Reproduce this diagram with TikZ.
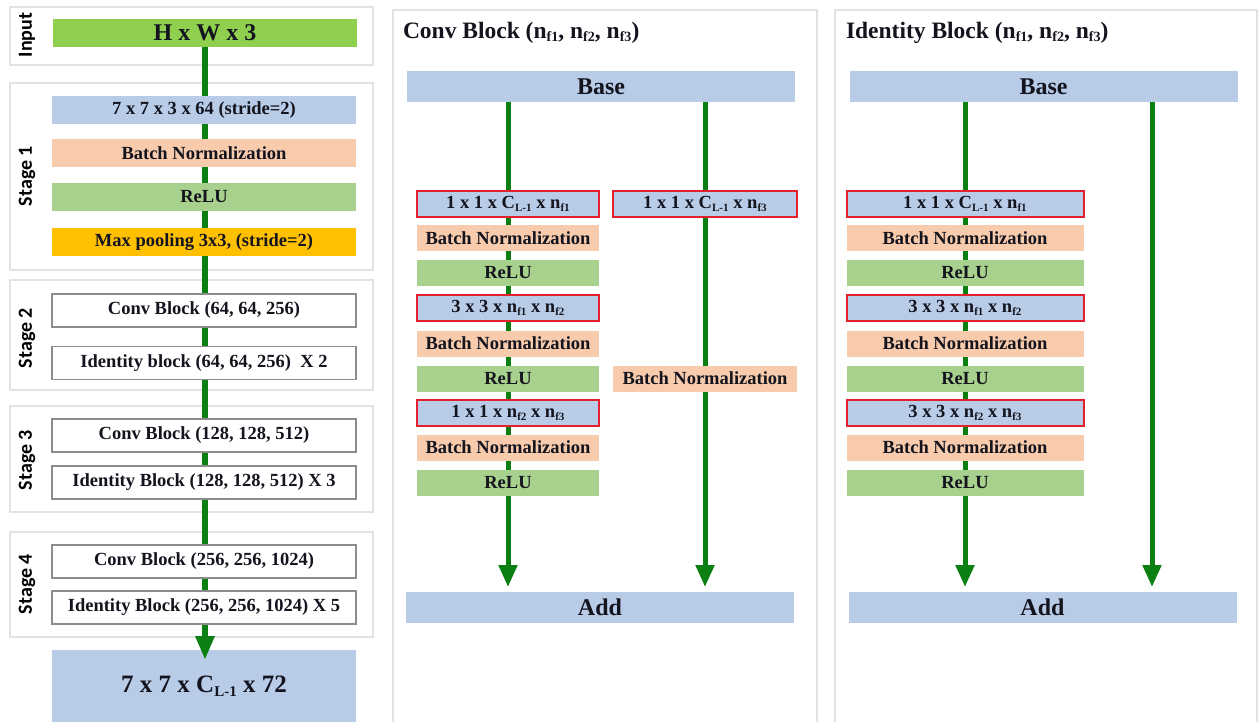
\documentclass[tikz,border=0pt]{standalone}
\usepackage{fontspec}
\setmainfont{Liberation Serif}
\newfontfamily\stagefont{Carlito}
\usetikzlibrary{arrows.meta,backgrounds}

\definecolor{cblue}{HTML}{B8CCE8}
\definecolor{csalmon}{HTML}{F8CBAD}
\definecolor{cgreen}{HTML}{A9D18E}
\definecolor{cinput}{HTML}{8FD14F}
\definecolor{corange}{HTML}{FFC000}
\definecolor{cred}{HTML}{E3202B}
\definecolor{cflow}{HTML}{0B7F12}
\definecolor{panelgray}{HTML}{E2E2E2}
\definecolor{boxgray}{HTML}{8C8C8C}
\definecolor{txt}{HTML}{14141E}

\newcommand\bxfont{\fontsize{18.5}{19}\selectfont\bfseries}
% small lowered index, about 60% of the surrounding size
\newcommand\sub[1]{\raisebox{-0.3ex}{\scalebox{0.6}{#1}}}

\begin{document}
\begin{tikzpicture}[x=1pt,y=-1pt,
  every node/.style={inner sep=0pt, outer sep=0pt, text=txt, font=\bxfont},
  panel/.style={draw=panelgray, line width=1.2pt, fill=white},
  stagelbl/.style={rotate=90, font=\stagefont\bfseries\fontsize{20}{20}\selectfont, text=black},
  wide/.style={minimum width=304},
  bluebox/.style={fill=cblue, minimum height=28},
  bnbox/.style={fill=csalmon, minimum height=26},
  relubox/.style={fill=cgreen, minimum height=26},
  poolbox/.style={fill=corange, minimum height=28},
  stagebox/.style={fill=white, draw=boxgray, line width=1.2pt, minimum height=33},
  convbox/.style={fill=cblue, draw=cred, line width=2pt, minimum height=26},
  bigbox/.style={fill=cblue, minimum width=388, minimum height=31, font=\fontsize{24}{24}\selectfont\bfseries},
  title/.style={anchor=west, font=\fontsize{23.5}{24}\selectfont\bfseries},
  flow/.style={draw=cflow, line width=5pt, -{Triangle[width=18pt,length=22pt]}},
  mainflow/.style={draw=cflow, line width=6pt, -{Triangle[width=18pt,length=24pt]}}
]
\useasboundingbox (0,0) rectangle (1259,722);

% ---------------- ResNet backbone ----------------
\node[fill=cinput, wide, minimum height=28, font=\fontsize{24}{24}\selectfont\bfseries] (inp) at (205,33) {H x W x 3};

\node[bluebox, wide] (s1a) at (204,110) {7 x 7 x 3 x 64 (stride=2)};
\node[bnbox, wide, minimum height=28] (s1b) at (204,153) {Batch Normalization};
\node[relubox, wide, minimum height=28] (s1c) at (204,197) {ReLU};
\node[poolbox, wide] (s1d) at (204,242) {Max pooling 3x3, (stride=2)};

\node[stagebox, wide] (s2a) at (204,310.5) {Conv Block (64, 64, 256)};
\node[stagebox, wide] (s2b) at (204,363) {Identity block (64, 64, 256)\ \ X 2};
\node[stagebox, wide] (s3a) at (204,435.5) {Conv Block (128, 128, 512)};
\node[stagebox, wide] (s3b) at (204,482.5) {Identity Block (128, 128, 512) X 3};
\node[stagebox, wide] (s4a) at (204,561.5) {Conv Block (256, 256, 1024)};
\node[stagebox, wide] (s4b) at (204,607.5) {Identity Block (256, 256, 1024) X 5};

% ---------------- Conv block ----------------
\node[title] (cbT) at (403,33) {Conv Block (n\sub{f1}, n\sub{f2}, n\sub{f3})};
\node[bigbox] (cbBase) at (601,86.5) {Base};
\node[bigbox] (cbAdd) at (600,607.5) {Add};

\node[convbox, minimum width=182] (cb1) at (508,204) {1 x 1 x C\sub{L-1} x n\sub{f1}};
\node[bnbox, minimum width=182] (cb2) at (508,238) {Batch Normalization};
\node[relubox, minimum width=182] (cb3) at (508,273) {ReLU};
\node[convbox, minimum width=182] (cb4) at (508,308) {3 x 3 x n\sub{f1} x n\sub{f2}};
\node[bnbox, minimum width=182] (cb5) at (508,343.5) {Batch Normalization};
\node[relubox, minimum width=182] (cb6) at (508,378.5) {ReLU};
\node[convbox, minimum width=182] (cb7) at (508,413) {1 x 1 x n\sub{f2} x n\sub{f3}};
\node[bnbox, minimum width=182] (cb8) at (508,447.5) {Batch Normalization};
\node[relubox, minimum width=182] (cb9) at (508,483) {ReLU};

\node[convbox, minimum width=184] (cbs1) at (705,204) {1 x 1 x C\sub{L-1} x n\sub{f3}};
\node[bnbox, minimum width=184] (cbs2) at (705,378.5) {Batch Normalization};

% ---------------- Identity block ----------------
\node[title] (idT) at (846,33) {Identity Block (n\sub{f1}, n\sub{f2}, n\sub{f3})};
\node[bigbox] (idBase) at (1043.5,86.5) {Base};
\node[bigbox] (idAdd) at (1042.5,607.5) {Add};

\node[convbox, minimum width=237] (id1) at (965,204) {1 x 1 x C\sub{L-1} x n\sub{f1}};
\node[bnbox, minimum width=237] (id2) at (965,238) {Batch Normalization};
\node[relubox, minimum width=237] (id3) at (965,273) {ReLU};
\node[convbox, minimum width=237] (id4) at (965,308) {3 x 3 x n\sub{f1} x n\sub{f2}};
\node[bnbox, minimum width=237] (id5) at (965,343.5) {Batch Normalization};
\node[relubox, minimum width=237] (id6) at (965,378.5) {ReLU};
\node[convbox, minimum width=237] (id7) at (965,413) {3 x 3 x n\sub{f2} x n\sub{f3}};
\node[bnbox, minimum width=237] (id8) at (965,447.5) {Batch Normalization};
\node[relubox, minimum width=237] (id9) at (965,483) {ReLU};
\coordinate (idskip) at (1152,300);

% ---------------- panels, output and data flow (behind the boxes) ----------------
\begin{scope}[on background layer]
  \draw[panel] (10,7) rectangle (373,65);
  \draw[panel] (10,83) rectangle (373,270);
  \draw[panel] (10,280) rectangle (373,390);
  \draw[panel] (10,406) rectangle (373,512);
  \draw[panel] (10,532) rectangle (373,637);
  \draw[panel] (393,740) -- (393,10) -- (817,10) -- (817,740);
  \draw[panel] (835,740) -- (835,10) -- (1257,10) -- (1257,740);

  \node[fill=cblue, wide, minimum height=72, font=\fontsize{25}{25}\selectfont\bfseries] (out) at (204,686) {7 x 7 x C\sub{L-1} x 72};

  \draw[mainflow] (inp.south) -- ([yshift=-10pt]inp.south |- out.north);

  \draw[flow] (cb1.center |- cbBase.south) -- ([yshift=5pt]cb1.center |- cbAdd.north);
  \draw[flow] (cbs1.center |- cbBase.south) -- ([yshift=5pt]cbs1.center |- cbAdd.north);
  \draw[flow] (id1.center |- idBase.south) -- ([yshift=5pt]id1.center |- idAdd.north);
  \draw[flow] (idBase.south -| idskip) -- ([yshift=5pt]idAdd.north -| idskip);
\end{scope}

% ---------------- stage labels ----------------
\node[stagelbl] (lin) at (27,35) {Input};
\node[stagelbl] (l1) at (27,176) {Stage 1};
\node[stagelbl] (l2) at (27,338) {Stage 2};
\node[stagelbl] (l3) at (27,460) {Stage 3};
\node[stagelbl] (l4) at (27,584) {Stage 4};
\end{tikzpicture}
\end{document}
